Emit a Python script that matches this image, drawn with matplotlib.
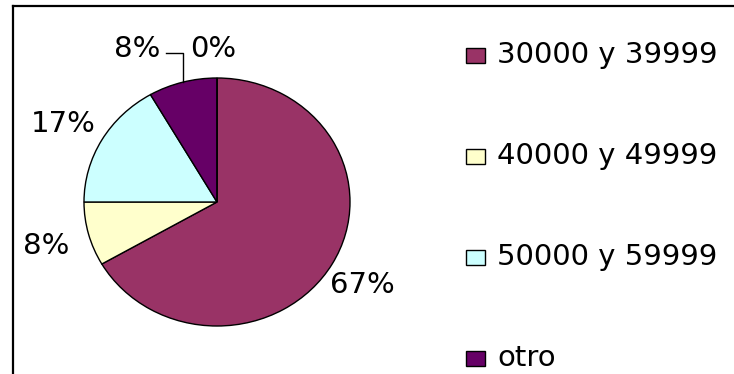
import numpy as np
import matplotlib
matplotlib.use("Agg")
import matplotlib.pyplot as plt
from matplotlib.patches import Rectangle
from matplotlib.lines import Line2D

# -------------------------------------------------------
# Datos: respuestas por rango de ingreso
# -------------------------------------------------------
categorias = ["30000 y 39999", "40000 y 49999", "50000 y 59999", "otro", "60000 o más"]
respuestas = [8, 1, 2, 1, 0]
colores = ["#993366", "#FFFFCC", "#CCFFFF", "#660066", "#FF8080"]

W, H = 734, 374
fig = plt.figure(figsize=(W / 100, H / 100), dpi=100)
fig.patch.set_facecolor("white")

# centro y radios del pastel (px, desde arriba a la izquierda)
cx, cy, rx, ry = 217, 202, 133, 124
ax = fig.add_axes([(cx - rx) / W, (H - cy - ry) / H, 2 * rx / W, 2 * ry / H])

wedges, _ = ax.pie(
    respuestas, colors=colores, startangle=90, counterclock=False,
    wedgeprops=dict(edgecolor="black", linewidth=1.0),
)
ax.set_aspect("auto")
ax.set_xlim(-1, 1)
ax.set_ylim(-1, 1)
ax.axis("off")

fs = 21
total = sum(respuestas)
acum = np.cumsum([0] + respuestas) / total
for i, v in enumerate(respuestas):
    pct = f"{v / total * 100:.0f}%"
    theta = np.deg2rad((acum[i] + acum[i + 1]) / 2 * 360)
    if categorias[i] == "otro":
        # etiqueta desplazada con línea guía
        ex, ey = np.sin(theta), np.cos(theta)
        ax.plot([ex, ex, -0.38], [ey, 1.20, 1.20], color="black", lw=1.0, clip_on=False)
        ax.text(-0.60, 1.23, pct, fontsize=fs, ha="center", va="center")
        continue
    d = 1.25 if v == 0 else 1.3
    ax.text(d * np.sin(theta) - 0.03, d * np.cos(theta) - 0.02, pct,
            fontsize=fs, ha="center", va="center")

# leyenda manual (solo las filas que caben en la figura)
for i, (cat, col) in enumerate(zip(categorias, colores)):
    base = 63 + 101 * i
    if base > H:
        break
    fig.add_artist(Rectangle((466 / W, (H - base) / H), 19 / W, 15 / H,
                             facecolor=col, edgecolor="black", lw=1.0,
                             transform=fig.transFigure))
    fig.text(497 / W, (H - base) / H, cat, fontsize=fs, ha="left", va="baseline")

# marco
fig.add_artist(Line2D([12.5 / W, 12.5 / W], [0, (H - 6) / H], color="black", lw=1.6))
fig.add_artist(Line2D([12.5 / W, 1], [(H - 6) / H, (H - 6) / H], color="black", lw=1.6))

fig.savefig("out.png", dpi=100)
